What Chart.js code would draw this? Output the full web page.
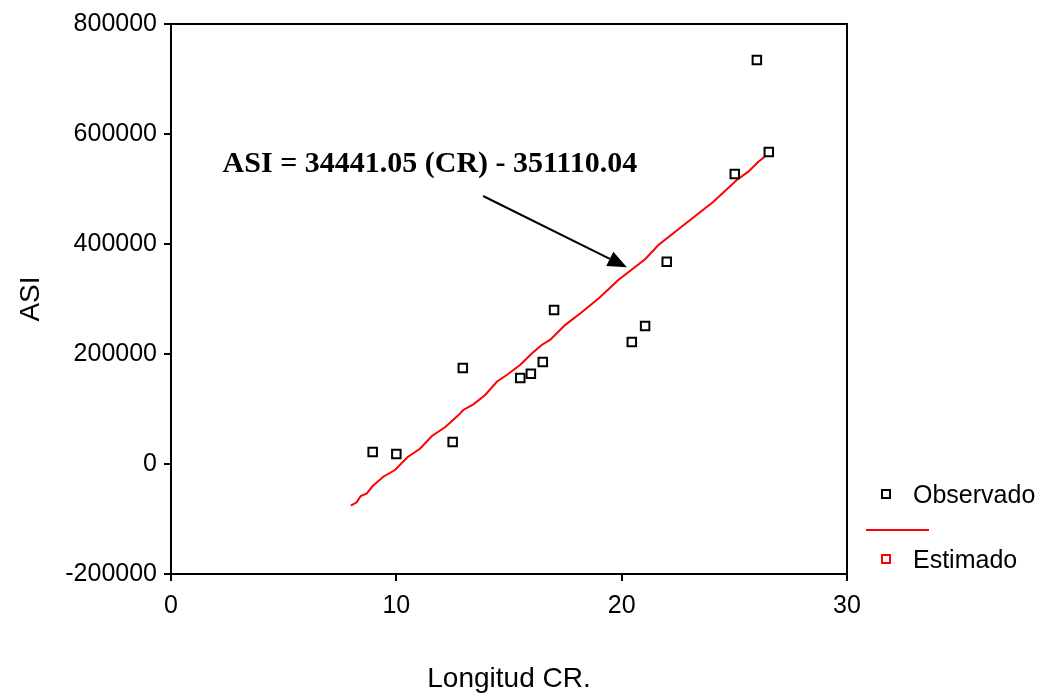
<!DOCTYPE html>
<html>
<head>
<meta charset="utf-8">
<script src="https://cdn.jsdelivr.net/npm/chart.js@4.4.1/dist/chart.umd.min.js"></script>
<style>
  html, body { margin: 0; padding: 0; background: #fff; }
  #wrap { width: 1041px; height: 699px; }
</style>
</head>
<body>
<div id="wrap"><canvas id="chart" width="1041" height="699"></canvas></div>
<script>
// observed values (Longitud CR, ASI)
const obsX = [8.95, 10.0, 12.5, 12.95, 15.5, 15.97, 16.5, 17.0, 20.45, 21.04, 22.0, 25.02, 26.0, 26.53]
const obsY = [21800, 18200, 40000, 174500, 156400, 164000, 185500, 280000, 221800, 251000, 367800, 527300, 734500, 567300]

// estimated curve
const estX = [7.98, 8.24, 8.42, 8.69, 8.95, 9.42, 9.94, 10.49, 11.05, 11.58, 12.16, 12.75, 12.97, 13.42, 13.94, 14.46, 14.9, 15.49, 16.05, 16.45, 16.82, 17.5, 18.2, 19.0, 19.85, 21.04, 21.63, 23.04, 24.07, 25.11, 25.62, 26.07, 26.44]
const estY = [-75800, -69600, -58200, -53300, -40000, -23100, -10900, 12200, 27800, 50900, 66700, 88500, 98200, 108500, 125500, 149600, 161800, 180000, 202400, 216400, 225500, 253000, 275000, 302000, 334500, 372200, 398200, 443600, 476900, 516400, 531500, 549600, 561800]

const yTicks = [-200000, 0, 200000, 400000, 600000, 800000]
const xTicks = [0, 10, 20, 30]

const equationText = "ASI = 34441.05 (CR) - 351110.04"
const legendLabels = ["Observado", "Estimado"]

const toPoints = (xs, ys) => xs.map((x, i) => ({ x: x, y: ys[i] }))

// box frame, equation annotation with arrow, custom legend
const extras = {
  id: "extras",
  afterDraw(chart) {
    const ctx = chart.ctx
    const a = chart.chartArea
    const xs = chart.scales.x
    const ys = chart.scales.y
    ctx.save()

    // top and right edges of the frame
    ctx.strokeStyle = "#000"
    ctx.lineWidth = 2
    ctx.beginPath()
    ctx.moveTo(a.left, a.top)
    ctx.lineTo(a.right, a.top)
    ctx.lineTo(a.right, a.bottom)
    ctx.stroke()

    // equation
    ctx.fillStyle = "#000"
    ctx.font = "bold 30px 'Liberation Serif', 'Times New Roman', serif"
    ctx.textAlign = "left"
    ctx.textBaseline = "alphabetic"
    ctx.fillText(equationText, xs.getPixelForValue(2.29), ys.getPixelForValue(530900))

    // arrow
    const x0 = xs.getPixelForValue(13.85), y0 = ys.getPixelForValue(487300)
    const x1 = xs.getPixelForValue(20.23), y1 = ys.getPixelForValue(357600)
    const ang = Math.atan2(y1 - y0, x1 - x0)
    const headLen = 19, headW = 8
    const bx = x1 - headLen * Math.cos(ang), by = y1 - headLen * Math.sin(ang)
    ctx.lineWidth = 2
    ctx.beginPath()
    ctx.moveTo(x0, y0)
    ctx.lineTo(bx, by)
    ctx.stroke()
    ctx.beginPath()
    ctx.moveTo(x1, y1)
    ctx.lineTo(bx + headW * Math.sin(ang), by - headW * Math.cos(ang))
    ctx.lineTo(bx - headW * Math.sin(ang), by + headW * Math.cos(ang))
    ctx.closePath()
    ctx.fill()

    // legend
    ctx.font = "25px 'Liberation Sans', Arial, sans-serif"
    ctx.textBaseline = "middle"
    ctx.lineWidth = 2
    ctx.strokeStyle = "#000"
    ctx.strokeRect(882, 490, 8, 8)
    ctx.fillText(legendLabels[0], 913, 496)
    ctx.strokeStyle = "#ff0000"
    ctx.beginPath()
    ctx.moveTo(866, 530)
    ctx.lineTo(929, 530)
    ctx.stroke()
    ctx.strokeRect(882, 555, 8, 8)
    ctx.fillText(legendLabels[1], 913, 561)

    ctx.restore()
  }
}

const tickFont = { family: "'Liberation Sans', Arial, sans-serif", size: 25 }
const titleFont = { family: "'Liberation Sans', Arial, sans-serif", size: 28 }

new Chart(document.getElementById("chart").getContext("2d"), {
  type: "scatter",
  data: {
    datasets: [
      {
        label: legendLabels[1],
        type: "line",
        data: toPoints(estX, estY),
        borderColor: "#ff0000",
        borderWidth: 2,
        pointRadius: 0,
        tension: 0,
        fill: false,
        order: 2,
      },
      {
        label: legendLabels[0],
        data: toPoints(obsX, obsY),
        pointStyle: "rect",
        pointRadius: 6,
        borderColor: "#000",
        backgroundColor: "#fff",
        borderWidth: 2,
        order: 1,
      },
    ],
  },
  options: {
    responsive: false,
    animation: false,
    events: [],
    layout: { padding: { top: 24, right: 194, left: 0, bottom: 0 } },
    scales: {
      x: {
        type: "linear",
        min: 0,
        max: 30,
        afterBuildTicks: (s) => { s.ticks = xTicks.map((v) => ({ value: v })) },
        afterFit: (s) => { s.height = 125 },
        grid: { drawOnChartArea: false, color: "#000", lineWidth: 2, tickLength: 7 },
        border: { color: "#000", width: 2 },
        ticks: { color: "#000", font: tickFont, padding: 10 },
        title: { display: true, text: "Longitud CR.", color: "#000", font: titleFont, padding: { bottom: 3 } },
      },
      y: {
        type: "linear",
        min: -200000,
        max: 800000,
        afterBuildTicks: (s) => { s.ticks = yTicks.map((v) => ({ value: v })) },
        afterFit: (s) => { s.width = 171 },
        grid: { drawOnChartArea: false, color: "#000", lineWidth: 2, tickLength: 7 },
        border: { color: "#000", width: 2 },
        ticks: { color: "#000", font: tickFont, padding: 7, callback: (v) => String(v) },
        title: { display: true, text: "ASI", color: "#000", font: titleFont, padding: { top: 14 } },
      },
    },
    plugins: {
      legend: { display: false },
      tooltip: { enabled: false },
    },
  },
  plugins: [extras],
})
</script>
</body>
</html>
